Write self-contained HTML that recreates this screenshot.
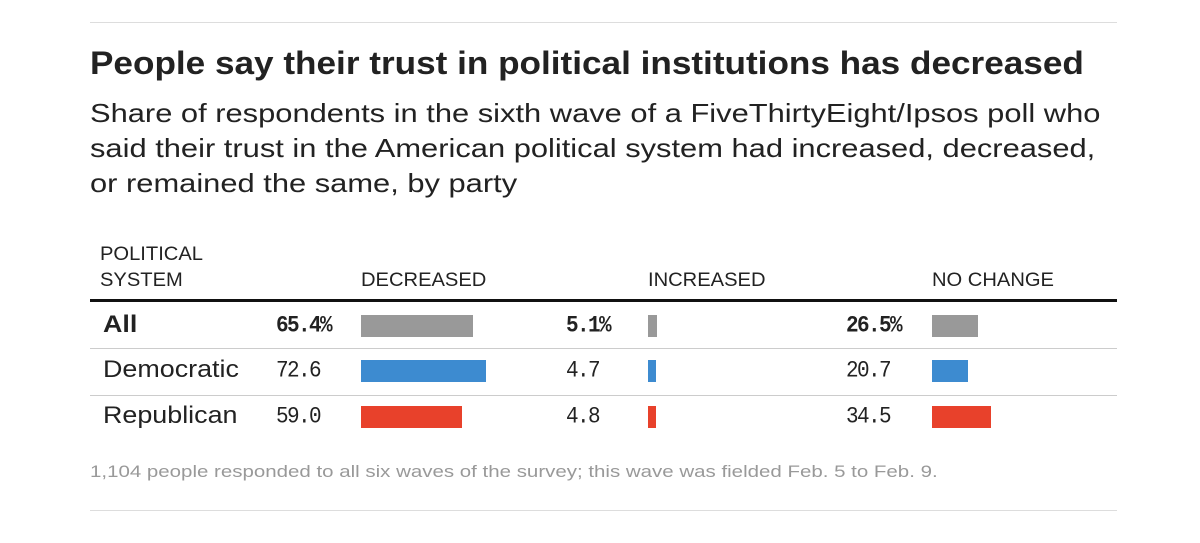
<!DOCTYPE html>
<html><head><meta charset="utf-8"><style>
body{margin:0;width:1200px;height:543px;background:#fff;position:relative;overflow:hidden;font-family:"Liberation Sans",sans-serif;color:#222}
.abs{position:absolute;white-space:nowrap;transform-origin:0 0}
.hr{position:absolute;left:90px;width:1027px;height:1px;background:#ddd}
.num{position:absolute;font-family:"Liberation Mono",monospace;font-size:21px;letter-spacing:-1.6px;transform:scaleY(1.1);transform-origin:0 0}
.hd{position:absolute;font-size:19px;color:#222;line-height:26px;transform:scaleX(1.06);transform-origin:0 0}
.lbl{position:absolute;left:103px;font-size:24px;transform:scaleX(1.12);transform-origin:0 0}
</style></head><body>
<div class="hr" style="top:22px"></div>
<div class="abs" style="left:90px;top:45px;font-size:32px;font-weight:bold;transform:scaleX(1.098)">People say their trust in political institutions has decreased</div>
<div class="abs" style="left:90px;top:96px;font-size:26px;line-height:35px;color:#222;transform:scaleX(1.187)">Share of respondents in the sixth wave of a FiveThirtyEight/Ipsos poll who<br>said their trust in the American political system had increased, decreased,<br>or remained the same, by party</div>
<div class="hd" style="left:100px;top:242px">POLITICAL<br>SYSTEM</div>
<div class="hd" style="left:361px;top:268px">DECREASED</div>
<div class="hd" style="left:648px;top:268px">INCREASED</div>
<div class="hd" style="left:932px;top:268px">NO CHANGE</div>
<div class="abs" style="left:90px;top:299px;width:1027px;height:3px;background:#111"></div>
<div class="hr" style="top:348px;background:#ccc"></div>
<div class="hr" style="top:395px;background:#ccc"></div>
<div id="rows"></div>
<div class="abs" style="left:90px;top:462px;font-size:17px;color:#999;transform:scaleX(1.204)">1,104 people responded to all six waves of the survey; this wave was fielded Feb. 5 to Feb. 9.</div>
<div class="hr" style="top:510px"></div>
<script>
const groups=["All","Democratic","Republican"];
const decreased=[65.4,72.6,59.0];
const increased=[5.1,4.7,4.8];
const noChange=[26.5,20.7,34.5];
const colors=["#999999","#3d8bd0","#e8412b"];
const cols=[{vals:decreased,numX:276,barX:361,name:"decreased"},{vals:increased,numX:566,barX:648,name:"increased"},{vals:noChange,numX:846,barX:932,name:"no-change"}];
const scale=v=>v*1.72;
const rowTop=[315,360,406];
const root=document.getElementById('rows');
groups.forEach((g,i)=>{
  const l=document.createElement('div');l.className='lbl';
  
  
  l.style.top=(rowTop[i]-4)+'px';l.textContent=g;
  if(i===0){l.style.fontWeight='bold';}
  root.appendChild(l);
  cols.forEach(c=>{
    const v=c.vals[i];
    const n=document.createElement('div');n.className='num';
    
    
    n.style.left=c.numX+'px';n.style.top=(rowTop[i]-1)+'px';
    n.textContent=v.toFixed(1)+(i===0?'%':'');
    if(i===0)n.style.fontWeight='bold';
    root.appendChild(n);
    const b=document.createElement('div');b.className='abs';
    
    
    b.style.left=c.barX+'px';b.style.top=rowTop[i]+'px';
    b.style.width=scale(v)+'px';b.style.height='22px';b.style.background=colors[i];
    root.appendChild(b);
  });
});
</script>
</body></html>
